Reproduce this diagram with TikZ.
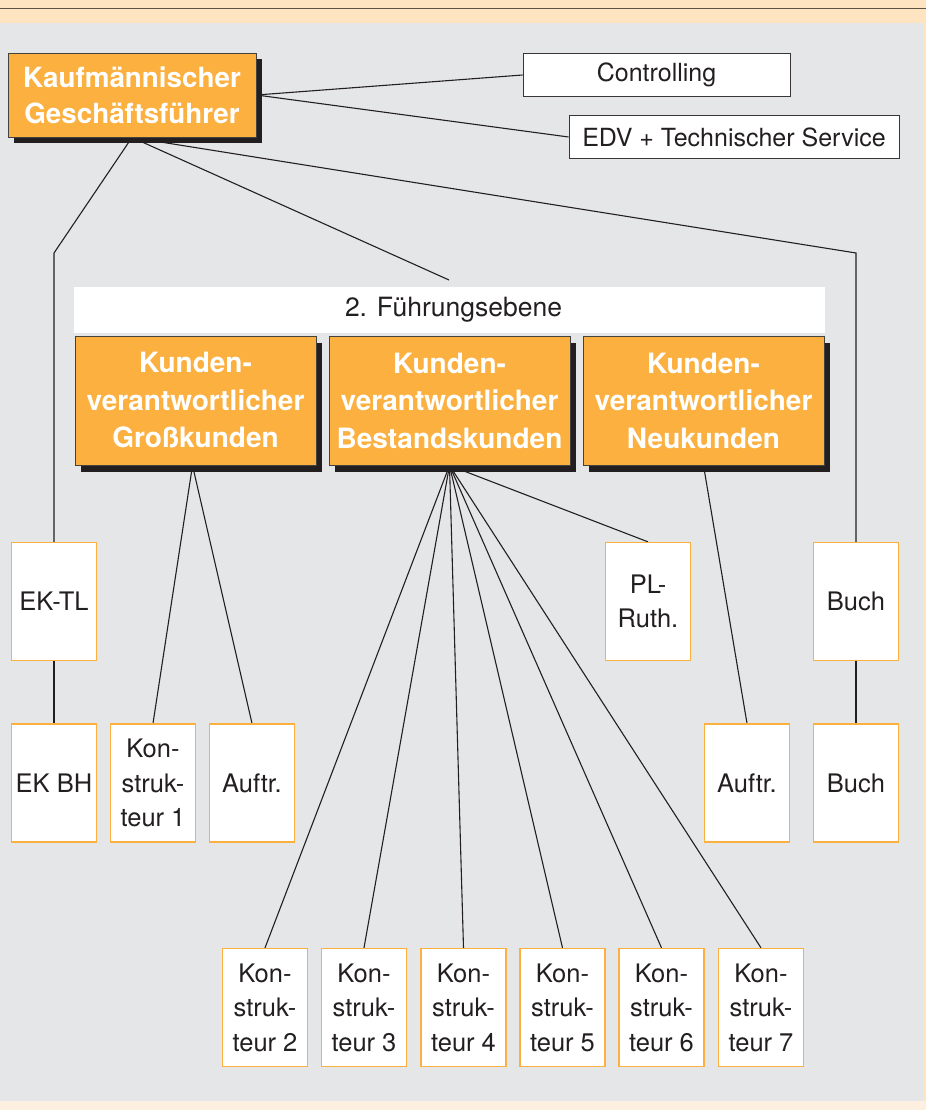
\documentclass[tikz,border=0pt]{standalone}
\usepackage{fontspec}
\setmainfont{TeX Gyre Heros}
\usetikzlibrary{shadows}
\definecolor{orng}{HTML}{FBB040}
\definecolor{bggray}{HTML}{E5E6E8}
\definecolor{peach}{HTML}{FEE4C1}
\definecolor{peachlt}{HTML}{FDF0E0}
\definecolor{ink}{HTML}{231F20}
\definecolor{rulec}{HTML}{5E5246}
\pgfdeclarelayer{bg}\pgfdeclarelayer{lines}
\pgfsetlayers{bg,lines,main}
\tikzset{
 head/.style={draw=ink!85, line width=0.9pt, fill=orng, inner sep=0pt,
   minimum width=241pt, minimum height=129pt, text=white, align=center,
   font=\fontsize{28}{37.5}\selectfont\bfseries,
   drop shadow={shadow xshift=6pt, shadow yshift=-6.5pt, fill=ink, opacity=1}},
 unit/.style={draw=orng, line width=1.3pt, fill=white, inner sep=0pt,
   minimum width=85pt, minimum height=118pt, text=ink, align=center,
   font=\fontsize{25.5}{34.5}\selectfont},
 plainbox/.style={draw=ink!90, line width=0.9pt, fill=white, inner sep=0pt,
   minimum height=43pt, text=ink, font=\fontsize{25}{30}\selectfont},
 conn/.style={draw=ink, line width=1.1pt},
}
\begin{document}
\begin{tikzpicture}[x=1pt,y=-1pt]
\useasboundingbox (0,0) rectangle (926,1110);
\begin{pgfonlayer}{bg}
\fill[peach] (0,0) rectangle (926,1110);
\fill[bggray] (0,23) rectangle (923,1101);
\fill[peachlt] (0,1101) rectangle (926,1110);
\draw[rulec, line width=1.5pt] (0,8.7) -- (926,8.7);
\end{pgfonlayer}

% top level
\node[head, minimum width=248pt, minimum height=84pt, font=\fontsize{27.8}{36}\selectfont\bfseries,
  drop shadow={shadow xshift=6pt, shadow yshift=-6pt, fill=ink, opacity=1}]
  (kg) at (132,95) {Kaufmännischer\\Geschäftsführer};
\node[plainbox, minimum width=267pt] (ctrl) at (656.5,75) {Controlling};
\node[plainbox, minimum width=330pt] (edv) at (734,137) {EDV + Technischer Service};

% second level
\node[fill=white, inner sep=0pt, minimum width=751pt, minimum height=46pt, text=ink,
  font=\fontsize{26.5}{30}\selectfont] (band) at (449.5,310) {\hspace*{8pt}2. Führungsebene};
\node[head] (gk) at (195.5,400.5) {Kunden-\\verantwortlicher\\Großkunden};
\node[head] (bk) at (449.5,400.5) {Kunden-\\verantwortlicher\\Bestandskunden};
\node[head] (nk) at (703.5,400.5) {Kunden-\\verantwortlicher\\Neukunden};

% units
\node[unit] (ektl) at (54,601.5) {EK-TL};
\node[unit] (ekbh) at (54,783) {EK BH};
\node[unit] (k1) at (153,783) {Kon-\\struk-\\teur 1};
\node[unit] (a1) at (252,783) {Auftr.};
\node[unit] (pl) at (648,601.5) {PL-\\Ruth.};
\node[unit] (a2) at (747,783) {Auftr.};
\node[unit] (b1) at (856,601.5) {Buch};
\node[unit] (b2) at (856,783) {Buch};
\node[unit] (k2) at (265,1007.5) {Kon-\\struk-\\teur 2};
\node[unit] (k3) at (364,1007.5) {Kon-\\struk-\\teur 3};
\node[unit] (k4) at (463.5,1007.5) {Kon-\\struk-\\teur 4};
\node[unit] (k5) at (562.5,1007.5) {Kon-\\struk-\\teur 5};
\node[unit] (k6) at (661.5,1007.5) {Kon-\\struk-\\teur 6};
\node[unit] (k7) at (761,1007.5) {Kon-\\struk-\\teur 7};

\coordinate (bendL) at (54,253);
\coordinate (bendR) at (856,253);
\coordinate (bandtop) at (449,280);

\begin{pgfonlayer}{lines}
\draw[conn] (kg.east) -- (ctrl.west);
\draw[conn] (kg.east) -- (edv.west);
\draw[conn] (kg.south) -- (bendL) -- (ektl.north);
\draw[conn] (kg.south) -- (bandtop);
\draw[conn] (kg.south) -- (bendR) -- (b1.north);
\draw[conn] (ektl.south) -- (ekbh.north);
\draw[conn] (b1.south) -- (b2.north);
\draw[conn] ([xshift=-3pt]gk.south) -- (k1.north);
\draw[conn] ([xshift=-3pt]gk.south) -- (a1.north);
\foreach \t in {k2,k3,k4,k5,k6,k7,pl}
  \draw[conn] (bk.south) -- (\t.north);
\draw[conn] (nk.south) -- (a2.north);
\end{pgfonlayer}
\end{tikzpicture}
\end{document}
